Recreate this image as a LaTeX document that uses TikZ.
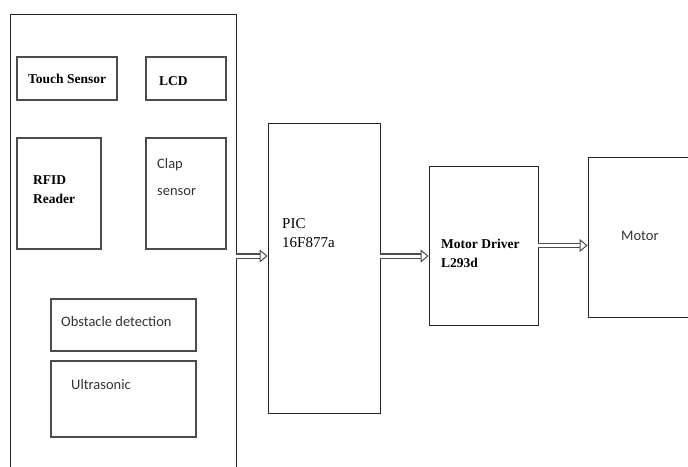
\documentclass[tikz,border=0pt]{standalone}
\usepackage{fontspec}
\setmainfont{Liberation Serif}
\newfontfamily\calib{Carlito}
\usetikzlibrary{arrows.meta, positioning}

\begin{document}
\begin{tikzpicture}[
		x=1pt, y=-1pt,
		unit/.style={rectangle, draw=black!85, line width=0.9pt, inner sep=0pt},
		part/.style={rectangle, draw=black!70, line width=2pt, inner sep=0pt},
		serif/.style={font=\fontsize{13.5}{19}\selectfont\bfseries, align=left, anchor=west, inner sep=0pt},
		plain/.style={font=\fontsize{15}{19}\selectfont, align=left, anchor=west, inner sep=0pt},
		sans/.style={font=\calib\fontsize{14.5}{27}\selectfont, align=left, anchor=west, inner sep=0pt, text=black!80},
		pipe/.style={double=white, double distance=3pt, line width=1.4pt, draw=black!70, -{Triangle[open, fill=white, length=8pt, width=13pt, line width=1pt]}}
		]
		\useasboundingbox (0,0) rectangle (688,466);

		% input side
		\node[unit, minimum width=226pt, minimum height=456pt] (inputs) at (123,242) {};
		\node[part, minimum width=100pt, minimum height=43pt] (touch) at (67,78.5) {};
		\node[part, minimum width=80pt, minimum height=43pt] (lcd) at (186,78.5) {};
		\node[part, minimum width=84pt, minimum height=111pt] (rfid) at (59,193.5) {};
		\node[part, minimum width=80pt, minimum height=111pt] (clap) at (186,193.5) {};
		\node[part, minimum width=145pt, minimum height=52pt] (obstacle) at (123.5,325) {};
		\node[part, minimum width=145pt, minimum height=76pt] (ultra) at (123.5,399) {};

		\node[serif] (touchtxt) at ([xshift=12pt]touch.west) {Touch Sensor};
		\node[serif] (lcdtxt) at ([xshift=14pt, yshift=-3pt]lcd.west) {LCD};
		\node[serif] (rfidtxt) at (33,190) {RFID\\Reader};
		\node[sans] (claptxt) at (157,177) {Clap\\sensor};
		\node[sans] (obstxt) at ([xshift=11pt, yshift=3pt]obstacle.west) {Obstacle detection};
		\node[sans] (ultratxt) at (71,385) {Ultrasonic};

		% controller and drive
		\node[unit, minimum width=112pt, minimum height=290pt] (pic) at (324,268) {};
		\node[unit, minimum width=109pt, minimum height=159pt] (driver) at (483.5,245.5) {};
		\node[unit, minimum width=102pt, minimum height=160pt] (motor) at (639,237) {};

		\node[plain] (pictxt) at (282,233) {PIC\\16F877a};
		\node[serif] (drivertxt) at (441,253) {Motor Driver\\L293d};
		\node[sans] (motortxt) at (621,236) {Motor};

		\coordinate (a1) at ([yshift=12pt]pic.west);
		\draw[pipe] (inputs.east |- a1) -- (a1);
		\draw[pipe] (pic.east |- a1) -- (a1 -| driver.west);
		\draw[pipe] (driver.east) -- (driver.east -| motor.west);
	\end{tikzpicture}
\end{document}
